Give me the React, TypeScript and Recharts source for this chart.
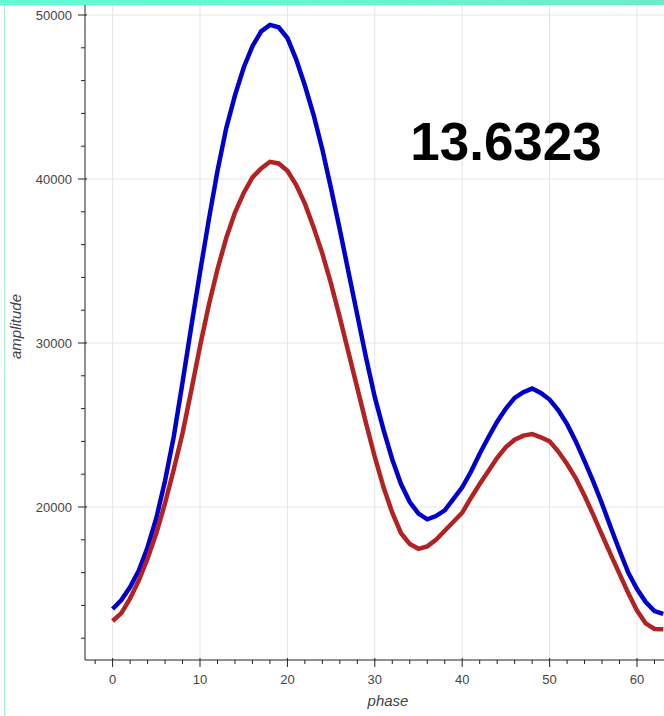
import React from "react";
import { LineChart, Line, XAxis, YAxis, CartesianGrid } from "recharts";

// phase samples and the two amplitude traces
const phase = [
  0, 1, 2, 3, 4, 5, 6, 7, 8, 9, 10, 11, 12, 13, 14, 15, 16, 17, 18, 19, 20, 21,
  22, 23, 24, 25, 26, 27, 28, 29, 30, 31, 32, 33, 34, 35, 36, 37, 38, 39, 40, 41,
  42, 43, 44, 45, 46, 47, 48, 49, 50, 51, 52, 53, 54, 55, 56, 57, 58, 59, 60, 61,
  62, 63,
];

const blueAmp = [
  13780, 14330, 15120, 16130, 17550, 19320, 21600, 24300, 27600, 31000, 34300,
  37500, 40500, 43100, 45100, 46800, 48100, 49000, 49400, 49250, 48600, 47300,
  45700, 43900, 41800, 39400, 36900, 34300, 31700, 29100, 26700, 24700, 22900,
  21400, 20300, 19600, 19250, 19450, 19800, 20500, 21200, 22150, 23250, 24250,
  25200, 26000, 26650, 27000, 27220, 26950, 26550, 25900, 25050, 24000, 22800,
  21550, 20200, 18750, 17350, 16000, 15000, 14200, 13650, 13480,
];

const redAmp = [
  13050, 13530, 14420, 15520, 16860, 18400, 20230, 22300, 24500, 27100, 29800,
  32300, 34500, 36400, 37950, 39150, 40100, 40650, 41050, 40950, 40500, 39650,
  38500, 37050, 35450, 33600, 31550, 29400, 27250, 25100, 23050, 21200, 19650,
  18400, 17750, 17450, 17600, 18000, 18550, 19100, 19650, 20550, 21400, 22200,
  23000, 23650, 24100, 24350, 24450, 24250, 24000, 23380, 22620, 21750, 20680,
  19520, 18300, 17100, 15920, 14750, 13680, 12900, 12560, 12540,
];

const xMajor = [0, 10, 20, 30, 40, 50, 60];
const xTicks = [
  -2, 0, 2, 4, 6, 8, 10, 12, 14, 16, 18, 20, 22, 24, 26, 28, 30, 32, 34, 36, 38,
  40, 42, 44, 46, 48, 50, 52, 54, 56, 58, 60, 62,
];
const yMajor = [20000, 30000, 40000, 50000];
const yTicks = [
  12000, 14000, 16000, 18000, 20000, 22000, 24000, 26000, 28000, 30000, 32000,
  34000, 36000, 38000, 40000, 42000, 44000, 46000, 48000, 50000,
];
const score = "13.6323";

const data = phase.map((p, i) => ({ phase: p, blue: blueAmp[i], red: redAmp[i] }));

const FONT = '"Liberation Sans", Arial, Helvetica, sans-serif';
const AXIS = "#222";
const LABEL = "#444";

const XTick = (props: any) => {
  const { x, y, payload } = props;
  const v = payload.value;
  const major = v % 10 === 0;
  return (
    <g>
      <line x1={x} x2={x} y1={major ? y - 2 : y} y2={major ? y + 7 : y + 4} stroke={AXIS} />
      {major && (
        <text x={x} y={y + 24} textAnchor="middle" fontSize={13} fill={LABEL} fontFamily={FONT}>
          {v}
        </text>
      )}
    </g>
  );
};

const YTick = (props: any) => {
  const { x, y, payload } = props;
  const v = payload.value;
  const major = v % 10000 === 0;
  return (
    <g>
      <line x1={major ? x - 7 : x - 4} x2={major ? x + 2 : x} y1={y} y2={y} stroke={AXIS} />
      {major && (
        <text x={x - 13} y={y + 4.6} textAnchor="end" fontSize={13} fill={LABEL} fontFamily={FONT}>
          {v}
        </text>
      )}
    </g>
  );
};

const YTitle = (props: any) => {
  const vb = props.viewBox;
  const cx = vb.x + 21;
  const cy = vb.y + vb.height / 2 - 6;
  return (
    <text
      x={cx}
      y={cy}
      transform={`rotate(-90, ${cx}, ${cy})`}
      textAnchor="middle"
      fontSize={15}
      fontStyle="italic"
      fill={LABEL}
      fontFamily={FONT}
    >
      amplitude
    </text>
  );
};

const XTitle = (props: any) => {
  const vb = props.viewBox;
  return (
    <text
      x={vb.x + vb.width / 2 + 13.5}
      y={vb.y + 46}
      textAnchor="middle"
      fontSize={15}
      fontStyle="italic"
      fill={LABEL}
      fontFamily={FONT}
    >
      phase
    </text>
  );
};

const App = () => {
  return (
    <div
      style={{
        position: "absolute",
        left: 0,
        top: 0,
        width: 664,
        height: 716,
        overflow: "hidden",
        background: "#fff",
        fontFamily: FONT,
      }}
    >
      <LineChart width={664} height={716} data={data} margin={{ top: 5, right: 0, bottom: 0, left: 0 }}>
        <CartesianGrid stroke="#e5e5e5" verticalValues={xMajor} horizontalValues={yMajor} />
        <XAxis
          dataKey="phase"
          type="number"
          domain={[-3.16, 63.09]}
          allowDataOverflow
          ticks={xTicks}
          interval={0}
          tick={<XTick />}
          tickLine={false}
          tickSize={0}
          tickMargin={0}
          height={56}
          axisLine={{ stroke: AXIS }}
          label={XTitle}
        />
        <YAxis
          type="number"
          domain={[10670, 50610]}
          allowDataOverflow
          ticks={yTicks}
          interval={0}
          tick={<YTick />}
          tickLine={false}
          tickSize={0}
          tickMargin={0}
          width={85}
          axisLine={{ stroke: AXIS }}
          label={YTitle}
        />
        <Line dataKey="blue" stroke="#0000cd" strokeWidth={4.5} dot={false} type="linear" isAnimationActive={false} />
        <Line dataKey="red" stroke="#b22222" strokeWidth={4.5} dot={false} type="linear" isAnimationActive={false} />
      </LineChart>
      <div
        style={{
          position: "absolute",
          left: 0,
          top: 0,
          width: 664,
          height: 5,
          background: "linear-gradient(90deg, #60fdd3 0%, #66f6cf 60%, #6cecc8 100%)",
        }}
      />
      <div style={{ position: "absolute", left: 4, top: 5, width: 1, height: 711, background: "#a8f7cf" }} />
      <svg width={664} height={716} style={{ position: "absolute", left: 0, top: 0, pointerEvents: "none" }}>
        <text x={506} y={160} textAnchor="middle" fontSize={53} fontWeight="bold" fill="#000" fontFamily={FONT}>
          {score}
        </text>
      </svg>
    </div>
  );
};

export default App;
